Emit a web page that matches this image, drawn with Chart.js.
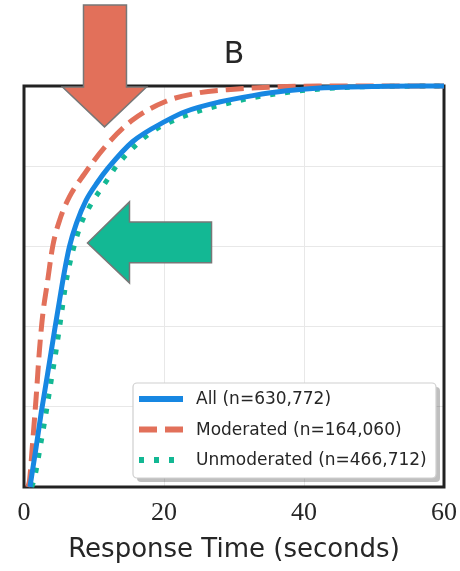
<!DOCTYPE html>
<html>
<head>
<meta charset="utf-8">
<script src="https://cdn.jsdelivr.net/npm/chart.js@4/dist/chart.umd.min.js"></script>
<style>
	html, body { margin: 0; padding: 0; background: #fff; }
	#wrap { width: 460px; height: 571px; }
</style>
</head>
<body>
<div id="wrap"><canvas id="chart" width="460" height="571"></canvas></div>
<script>
// response time (s) and cumulative share
const allTime = [0.85, 1.74, 2.45, 3.4, 4.36, 5.07, 5.75, 6.5, 7.5, 8.9, 10.5, 12.0, 15.5, 20.3, 23.2, 27.9, 32.7, 37.5, 42.2, 50, 60]
const allShare = [0, 0.10, 0.184, 0.285, 0.39, 0.465, 0.535, 0.60, 0.658, 0.716, 0.76, 0.795, 0.861, 0.913, 0.937, 0.96, 0.976, 0.988, 0.995, 0.999, 1]

const modTime = [0.55, 0.79, 1.26, 1.74, 2.2, 2.7, 3.3, 4.1, 5.1, 6.5, 8.6, 11.7, 15.5, 20.3, 25, 30, 35, 42, 60]
const modShare = [0, 0.017, 0.117, 0.225, 0.34, 0.433, 0.505, 0.60, 0.666, 0.724, 0.78, 0.851, 0.915, 0.962, 0.983, 0.992, 0.997, 1, 1]

const unmodTime = [1.1, 1.5, 2.45, 3.2, 3.9, 4.6, 5.3, 6.0, 7.0, 8.2, 9.4, 11.7, 13.2, 16.2, 18.2, 20, 24, 28, 33, 38, 42, 48, 60]
const unmodShare = [0, 0.022, 0.113, 0.19, 0.267, 0.342, 0.425, 0.51, 0.59, 0.658, 0.70, 0.761, 0.80, 0.856, 0.885, 0.903, 0.932, 0.952, 0.972, 0.985, 0.992, 0.998, 1]

const seriesLabels = ["All (n=630,772)", "Moderated (n=164,060)", "Unmoderated (n=466,712)"]
const xTicks = [0, 20, 40, 60]

const BLUE = "#1787e2"
const RED = "#e2705a"
const GREEN = "#13b894"

const toPoints = (xs, ys) => xs.map((x, i) => ({x: x, y: ys[i]}))

// frame around the plot area
const framePlugin = {
	id: "frame",
	beforeDatasetsDraw(chart) {
		const {ctx, chartArea: a} = chart
		ctx.save()
		ctx.strokeStyle = "#222"
		ctx.lineWidth = 3
		ctx.strokeRect(a.left, a.top, a.right - a.left, a.bottom - a.top)
		ctx.restore()
	}
}

// legend box inside the plot, lower right
const boxLegend = {
	id: "boxLegend",
	afterDatasetsDraw(chart) {
		const {ctx} = chart
		const x = 133, y = 383, w = 303, h = 95
		ctx.save()
		ctx.fillStyle = "rgba(0,0,0,0.25)"
		roundRect(ctx, x + 4, y + 4, w, h, 4)
		ctx.fill()
		ctx.fillStyle = "#fff"
		ctx.strokeStyle = "#cfcfcf"
		ctx.lineWidth = 1.2
		roundRect(ctx, x, y, w, h, 4)
		ctx.fill()
		ctx.stroke()
		ctx.font = "17px 'DejaVu Sans'"
		ctx.textBaseline = "middle"
		chart.data.datasets.forEach((ds, i) => {
			const ry = y + 16 + i * 30.5
			ctx.strokeStyle = ds.borderColor
			ctx.lineWidth = ds.borderWidth + 1
			ctx.lineCap = ds.borderCapStyle || "butt"
			ctx.setLineDash(ds.borderDash || [])
			ctx.beginPath()
			ctx.moveTo(x + 6, ry)
			ctx.lineTo(x + 50, ry)
			ctx.stroke()
			ctx.setLineDash([])
			ctx.fillStyle = "#262626"
			ctx.fillText(ds.label, x + 63, ry + 1)
		})
		ctx.restore()
	}
}

function roundRect(ctx, x, y, w, h, r) {
	ctx.beginPath()
	ctx.moveTo(x + r, y)
	ctx.arcTo(x + w, y, x + w, y + h, r)
	ctx.arcTo(x + w, y + h, x, y + h, r)
	ctx.arcTo(x, y + h, x, y, r)
	ctx.arcTo(x, y, x + w, y, r)
	ctx.closePath()
}

// block arrows, given in data units
const arrows = [
	{color: RED, pts: [[8.5, 1.202], [14.64, 1.202], [14.64, 0.9975], [17.5, 0.9975], [11.5, 0.898], [5.5, 0.9975], [8.5, 0.9975]]},
	{color: GREEN, pts: [[26.79, 0.661], [26.79, 0.559], [15.07, 0.559], [15.07, 0.509], [9.07, 0.6085], [15.07, 0.711], [15.07, 0.661]]}
]

const arrowPlugin = {
	id: "arrows",
	afterDraw(chart) {
		const {ctx, scales: {x, y}} = chart
		ctx.save()
		arrows.forEach(a => {
			ctx.beginPath()
			a.pts.forEach((p, i) => {
				const px = x.getPixelForValue(p[0]), py = y.getPixelForValue(p[1])
				i ? ctx.lineTo(px, py) : ctx.moveTo(px, py)
			})
			ctx.closePath()
			ctx.fillStyle = a.color
			ctx.fill()
			ctx.strokeStyle = "#777"
			ctx.lineWidth = 1.5
			ctx.lineJoin = "miter"
			ctx.stroke()
		})
		ctx.restore()
	}
}

new Chart(document.getElementById("chart"), {
	type: "line",
	data: {
		datasets: [
			{
				label: seriesLabels[0],
				data: toPoints(allTime, allShare),
				borderColor: BLUE,
				borderWidth: 5
			},
			{
				label: seriesLabels[1],
				data: toPoints(modTime, modShare),
				borderColor: RED,
				borderWidth: 5,
				borderDash: [18, 8]
			},
			{
				label: seriesLabels[2],
				data: toPoints(unmodTime, unmodShare),
				borderColor: GREEN,
				borderWidth: 5,
				borderDash: [5, 10]
			}
		]
	},
	options: {
		responsive: false,
		animation: false,
		events: [],
		clip: 4,
		elements: {
			point: {radius: 0},
			line: {cubicInterpolationMode: "monotone", fill: false}
		},
		layout: {padding: {left: 24, right: 16, top: 24, bottom: 0}},
		plugins: {
			legend: {display: false},
			tooltip: {enabled: false},
			title: {
				display: true,
				text: "B",
				color: "#262626",
				font: {family: "'DejaVu Sans'", size: 30, weight: "normal"},
				padding: {top: 13, bottom: 13}
			}
		},
		scales: {
			x: {
				type: "linear",
				min: 0,
				max: 60,
				afterBuildTicks: s => { s.ticks = xTicks.map(v => ({value: v})) },
				afterFit: s => {
					s.height = 84
					s.paddingLeft = 0
					s.paddingRight = 0
				},
				ticks: {
					color: "#262626",
					font: {family: "'Liberation Serif'", size: 26},
					padding: 11,
					maxRotation: 0
				},
				grid: {color: "#e8e8e8", lineWidth: 1, drawTicks: false},
				border: {display: false},
				title: {
					display: true,
					text: "Response Time (seconds)",
					color: "#262626",
					font: {family: "'DejaVu Sans'", size: 26},
					padding: {top: 5, bottom: 5}
				}
			},
			y: {
				min: 0,
				max: 1,
				ticks: {display: false, stepSize: 0.2},
				grid: {color: "#e8e8e8", lineWidth: 1, drawTicks: false},
				border: {display: false},
				afterFit: s => { s.width = 0 }
			}
		}
	},
	plugins: [framePlugin, boxLegend, arrowPlugin]
})
</script>
</body>
</html>
